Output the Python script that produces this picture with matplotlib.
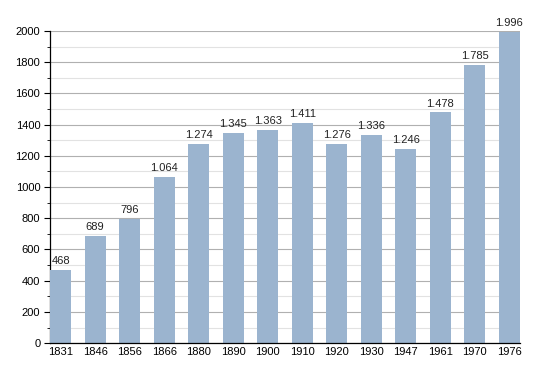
import matplotlib
matplotlib.use("Agg")
import matplotlib.pyplot as plt
from matplotlib.ticker import MultipleLocator

years = ["1831", "1846", "1856", "1866", "1880", "1890", "1900",
         "1910", "1920", "1930", "1947", "1961", "1970", "1976"]
population = [468, 689, 796, 1064, 1274, 1345, 1363,
              1411, 1276, 1336, 1246, 1478, 1785, 1996]
labels = ["468", "689", "796", "1.064", "1.274", "1.345", "1.363",
          "1.411", "1.276", "1.336", "1.246", "1.478", "1.785", "1.996"]

plt.rcParams["font.family"] = ["Liberation Sans", "DejaVu Sans"]

fig = plt.figure(figsize=(5.5, 3.73), dpi=100)
ax = fig.add_axes([0.091, 0.080, 0.854, 0.837])

width = 0.61
x = list(range(len(years)))
ax.bar(x, population, width=width, color="#9bb4cf", zorder=3)
for xi, v, lab in zip(x, population, labels):
    ax.text(xi, v + 25, lab, ha="center", va="bottom", fontsize=8, color="#222222")

ax.set_xlim(-width / 2, len(years) - 1 + width / 2)
ax.set_ylim(0, 2000)
ax.yaxis.set_major_locator(MultipleLocator(200))
ax.yaxis.set_minor_locator(MultipleLocator(100))
ax.grid(which="major", axis="y", color="#b0b0b0", linewidth=0.8, zorder=0)
ax.grid(which="minor", axis="y", color="#e2e2e2", linewidth=0.8, zorder=0)
ax.set_xticks(x)
ax.set_xticklabels(years)
ax.tick_params(axis="x", length=0, labelsize=8, pad=3)
ax.tick_params(axis="y", which="major", length=4, labelsize=8, pad=3)
ax.tick_params(axis="y", which="minor", length=2)
for side in ("top", "right"):
    ax.spines[side].set_visible(False)
ax.spines["left"].set_linewidth(0.9)
ax.spines["bottom"].set_linewidth(0.9)
ax.spines["bottom"].set_zorder(4)

fig.savefig("out.png", dpi=100)
